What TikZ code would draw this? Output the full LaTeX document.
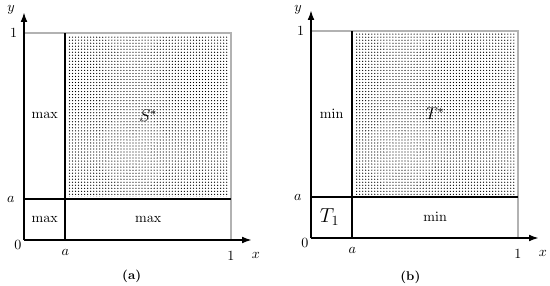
\documentclass[tikz,border=0pt]{standalone}
\usepackage{amsmath,amssymb}
\usetikzlibrary{arrows.meta,positioning,calc,patterns.meta}

\tikzset{
	axis/.style={line width=1.1pt,-{Latex[length=2.4mm,width=1.7mm]}},
	border/.style={gray!60,line width=0.8pt},
	divide/.style={line width=1.5pt},
	dotfill/.style={pattern={Dots[distance=2.15pt,radius=0.45pt]},pattern color=black}
}

\begin{document}
\begin{tikzpicture}
	\useasboundingbox (0,0) rectangle (13.75,7.125);
	
	% panel (a)
	\begin{scope}[shift={(0.6,1.125)},x=5.175cm,y=5.175cm]
		\coordinate (O) at (0,0);
		\coordinate (X) at (1.1,0);
		\coordinate (Y) at (0,1.1);
		\coordinate (A) at (0.2,0);
		\coordinate (B) at (0,0.2);
		\coordinate (P) at (1,0);
		\coordinate (Q) at (0,1);
		\coordinate (R) at (1,1);
		\coordinate (AT) at (0.2,1);
		\coordinate (BR) at (1,0.2);
		\coordinate (M) at (0.2,0.2);
		
		\fill[dotfill] ($(M)+(0.015,0.01)$) rectangle ($(R)+(-0.01,-0.01)$);
		
		\draw[border] (Q)--(R)--(P);
		\draw[divide] (A)--(AT);
		\draw[divide] (B)--(BR);
		\draw[axis] (O)--(X);
		\draw[axis] (O)--(Y);
		
		\node (lab0) at (-0.03,-0.025) {$0$};
		\node (labx) at (1.12,-0.077) {$x$};
		\node (laby) at (-0.063,1.11) {$y$};
		\node (labxa) at (0.2,-0.058) {$a$};
		\node (labx1) at (1,-0.077) {$1$};
		\node (labya) at (-0.063,0.195) {$a$};
		\node (laby1) at (-0.05,1) {$1$};
		
		\node (left) at (0.1,0.6) {$\max$};
		\node (corner) at (0.1,0.1) {$\max$};
		\node (bottom) at (0.6,0.1) {$\max$};
		\node (star) at (0.6,0.6) {\large $S^*$};
		
		\node (cap) at (0.52,-0.176) {\small\bfseries (a)};
	\end{scope}
	
	% panel (b)
	\begin{scope}[shift={(7.775,1.175)},x=5.175cm,y=5.175cm]
		\coordinate (O) at (0,0);
		\coordinate (X) at (1.1,0);
		\coordinate (Y) at (0,1.1);
		\coordinate (A) at (0.2,0);
		\coordinate (B) at (0,0.2);
		\coordinate (P) at (1,0);
		\coordinate (Q) at (0,1);
		\coordinate (R) at (1,1);
		\coordinate (AT) at (0.2,1);
		\coordinate (BR) at (1,0.2);
		\coordinate (M) at (0.2,0.2);
		
		\fill[dotfill] ($(M)+(0.015,0.01)$) rectangle ($(R)+(-0.01,-0.01)$);
		
		\draw[border] (Q)--(R)--(P);
		\draw[divide] (A)--(AT);
		\draw[divide] (B)--(BR);
		\draw[axis] (O)--(X);
		\draw[axis] (O)--(Y);
		
		\node (lab0) at (-0.03,-0.025) {$0$};
		\node (labx) at (1.12,-0.077) {$x$};
		\node (laby) at (-0.063,1.1) {$y$};
		\node (labxa) at (0.2,-0.058) {$a$};
		\node (labx1) at (1,-0.077) {$1$};
		\node (labya) at (-0.063,0.195) {$a$};
		\node (laby1) at (-0.05,1) {$1$};
		
		\node (left) at (0.1,0.6) {$\min$};
		\node (corner) at (0.09,0.1) {\Large $T_1$};
		\node (bottom) at (0.6,0.1) {$\min$};
		\node (star) at (0.6,0.6) {\large $T^*$};
		
		\node (cap) at (0.48,-0.19) {\small\bfseries (b)};
	\end{scope}
\end{tikzpicture}
\end{document}
